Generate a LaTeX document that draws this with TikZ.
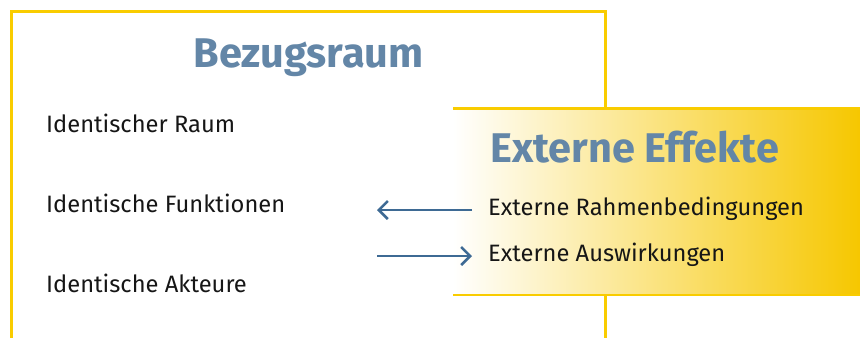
\documentclass[tikz,border=0pt]{standalone}
\usepackage{fontspec}
\setmainfont{Fira Sans}
\usetikzlibrary{arrows.meta}
\definecolor{frameyellow}{HTML}{F9CC00}
\definecolor{shadeyellow}{HTML}{F6C700}
\definecolor{titleblue}{HTML}{6386A7}
\definecolor{arrowblue}{HTML}{3E6A94}
\definecolor{textdark}{HTML}{161616}
\begin{document}
\begin{tikzpicture}[x=1pt,y=-1pt,
  frame/.style={draw=frameyellow,line width=2.7pt},
  title/.style={inner sep=0pt,text=titleblue,font=\fontsize{41.5}{48}\selectfont\bfseries},
  item/.style={inner sep=0pt,anchor=base west,text=textdark,font=\fontsize{23.7}{28}\selectfont},
  flow/.style={draw=arrowblue,line width=2.5pt,-{Straight Barb[length=9pt,width=18pt,line width=2.5pt]}}]
  \useasboundingbox (0,0) rectangle (860,338);
  % shaded band of the external effects
  \shade[left color=white,right color=shadeyellow] (453,108.7) rectangle (860,295);
  % frame of the reference area
  \draw[frame] (11.3,338) -- (11.3,11.3) -- (605.3,11.3) -- (605.3,108.7);
  \draw[frame] (605.3,295) -- (605.3,338);
  % top and bottom rules of the band
  \draw[frame] (453,108.7) -- (860,108.7);
  \draw[frame] (453,295) -- (860,295);
  % texts
  \node[title,anchor=base] (bezug) at (308.7,67.3) {Bezugsraum};
  \node[item] (raum) at (46,132.3) {Identischer Raum};
  \node[item] (funk) at (46,212.3) {Identische Funktionen};
  \node[item] (akt) at (46,292.3) {Identische Akteure};
  \node[title,anchor=base west] (extern) at (490,162.3) {Externe Effekte};
  \node[item] (rahmen) at (488,215.7) {Externe Rahmenbedingungen};
  \node[item] (ausw) at (488,261.7) {Externe Auswirkungen};
  % arrows
  \coordinate (inA) at (472,210);
  \coordinate (inB) at (377,210);
  \coordinate (outA) at (377,256);
  \coordinate (outB) at (472,256);
  \draw[flow] (inA) -- (inB);
  \draw[flow] (outA) -- (outB);
\end{tikzpicture}
\end{document}
